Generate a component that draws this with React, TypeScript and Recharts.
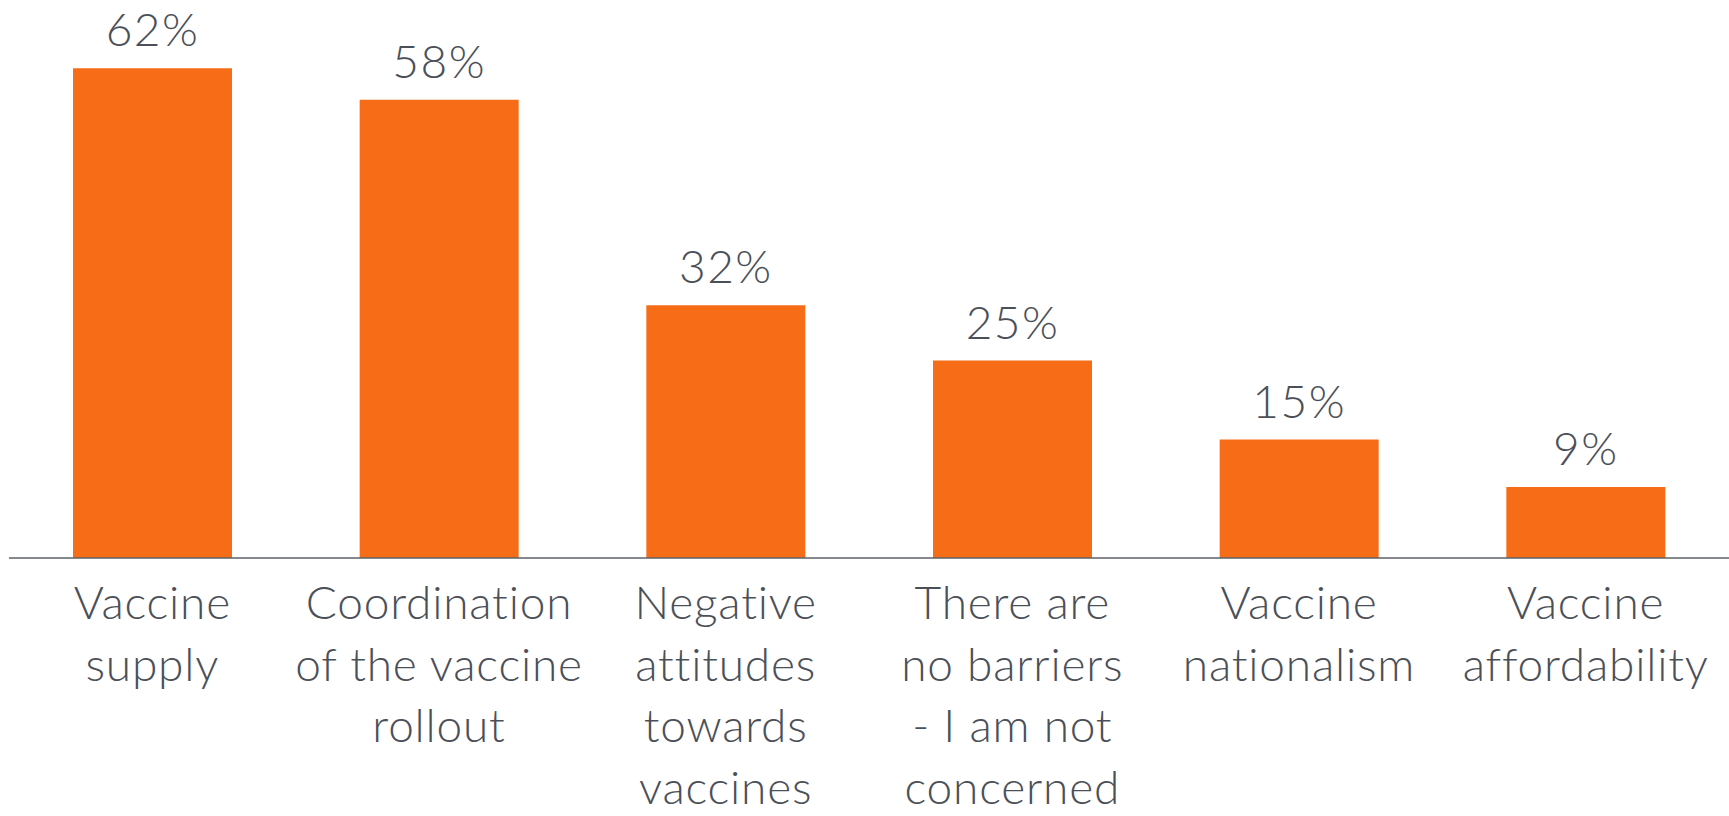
import { BarChart, Bar, XAxis, YAxis, LabelList } from 'recharts'

const categories = [
  'Vaccine supply',
  'Coordination of the vaccine rollout',
  'Negative attitudes towards vaccines',
  'There are no barriers - I am not concerned',
  'Vaccine nationalism',
  'Vaccine affordability',
]

// how each category name is broken over lines under the axis
const categoryLines = [
  ['Vaccine', 'supply'],
  ['Coordination', 'of the vaccine', 'rollout'],
  ['Negative', 'attitudes', 'towards', 'vaccines'],
  ['There are', 'no barriers', '- I am not', 'concerned'],
  ['Vaccine', 'nationalism'],
  ['Vaccine', 'affordability'],
]

const shares = [62, 58, 32, 25, 15, 9]

const FONT = 'Lato, "Open Sans", sans-serif'
const TEXT = '#4b5058'
const ORANGE = '#f76c17'

function CategoryTick({ x, y, index }: any) {
  const lines = categoryLines[index] || []
  return (
    <text
      x={x}
      y={y}
      textAnchor="middle"
      fill={TEXT}
      fontFamily={FONT}
      fontWeight={300}
      fontSize={46}
      letterSpacing={0.8}
    >
      {lines.map((line, i) => (
        <tspan key={i} x={x} dy={i === 0 ? 53 : 61.5}>
          {line}
        </tspan>
      ))}
    </text>
  )
}

export default function App() {
  const data = categories.map((name, i) => ({ name, share: shares[i] }))

  return (
    <div style={{ position: 'absolute', left: 0, top: 0, background: '#fff' }}>
      <BarChart
        width={1729}
        height={816}
        data={data}
        margin={{ top: 5, right: 0, left: 9, bottom: 0 }}
      >
        <XAxis
          dataKey="name"
          interval={0}
          height={258}
          tickLine={false}
          axisLine={{ stroke: '#5d6167', strokeWidth: 1.5 }}
          tick={<CategoryTick />}
        />
        <YAxis hide domain={[0, 70]} />
        <Bar dataKey="share" fill={ORANGE} barSize={159} isAnimationActive={false}>
          <LabelList
            dataKey="share"
            position="top"
            offset={22}
            formatter={(v: number) => `${v}%`}
            fill={TEXT}
            fontFamily={FONT}
            fontWeight={300}
            fontSize={46}
            letterSpacing={1.5}
          />
        </Bar>
      </BarChart>
    </div>
  )
}
